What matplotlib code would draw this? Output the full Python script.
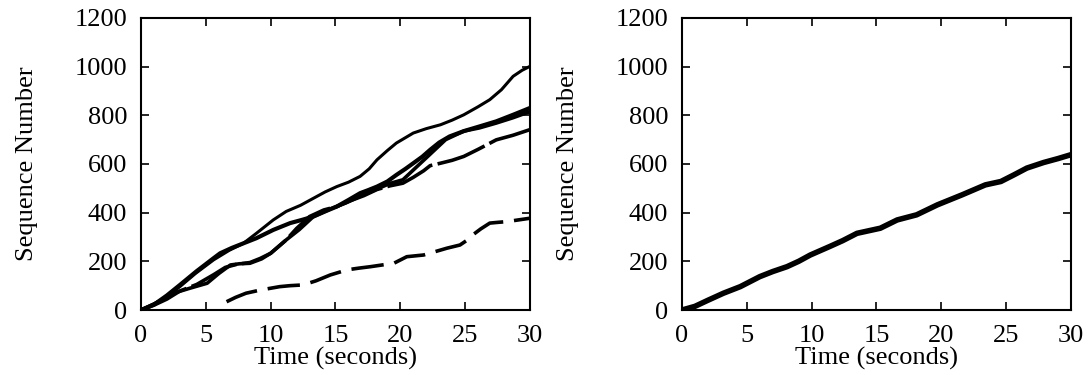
import numpy as np
import matplotlib
matplotlib.use('Agg')
import matplotlib.pyplot as plt

plt.rcParams['font.family'] = ['Liberation Serif', 'DejaVu Serif']

# left panel: several flows (time in s, sequence number)
t_a = [0, 1.0, 2.0, 3.0, 4.2, 5.6, 6.8, 7.9, 8.9, 10.2, 11.2, 12.3, 13.3, 14.2, 15.1,
       16.0, 16.9, 17.6, 18.2, 19.0, 19.7, 21.0, 22.0, 23.1, 24.0, 24.9, 26.0, 26.9,
       27.8, 28.7, 29.4, 30.0]
s_a = [0, 25, 55, 96, 150, 206, 245, 274, 315, 370, 405, 430, 459, 485, 507,
       525, 549, 580, 617, 655, 686, 727, 745, 761, 780, 802, 835, 864,
       905, 960, 985, 1001]

t_b = [0, 1.0, 2.0, 3.0, 4.3, 5.6, 6.1, 7.0, 7.9, 8.9, 10.2, 11.5, 12.4, 13.3, 14.2,
       15.1, 16.0, 16.9, 17.5, 18.2, 19.0, 19.7, 20.4, 21.0, 21.7, 22.3, 23.0, 23.8,
       24.9, 26.1, 27.4, 28.7, 30.0]
s_b = [0, 22, 60, 103, 160, 213, 233, 255, 274, 295, 329, 357, 370, 384, 405,
       425, 452, 480, 492, 507, 528, 555, 580, 603, 630, 658, 688, 713,
       735, 754, 775, 802, 830]

t_c = [0, 1.0, 2.0, 3.0, 4.3, 5.6, 6.5, 7.4, 8.4, 9.2, 10.0, 11.2, 12.0, 13.0, 14.1,
       15.1, 16.2, 17.2, 18.2, 19.2, 20.2, 21.0, 21.8, 22.3, 23.1, 24.0, 24.9, 26.0,
       27.4, 28.7, 30.0]
s_c = [0, 20, 45, 78, 105, 145, 175, 188, 195, 212, 233, 288, 335, 384, 411,
       425, 450, 470, 495, 510, 521, 545, 572, 593, 603, 615, 631, 660,
       699, 718, 741]

t_e = [0, 1.2, 2.5, 3.8, 5.1, 6.0, 6.9, 7.6, 8.4, 9.3, 10.0, 11.2, 12.2, 13.3, 14.6,
       15.8, 17.0, 18.2, 19.2, 20.2, 21.2, 22.3, 23.5, 24.9, 26.1, 27.4, 28.7, 30.0]
s_e = [0, 30, 69, 90, 110, 150, 185, 190, 192, 210, 233, 288, 330, 384, 415,
       440, 470, 497, 520, 535, 585, 640, 700, 735, 748, 768, 790, 815]

t_d = [6.6, 7.3, 8.1, 9.2, 10.7, 11.5, 12.5, 13.5, 14.6, 15.9, 16.8, 17.7, 18.6,
       19.5, 20.5, 21.8, 22.7, 23.6, 24.6, 25.1, 25.6, 26.2, 26.9, 27.5, 28.2, 29.1, 30.0]
s_d = [34, 52, 69, 82, 96, 100, 103, 120, 144, 165, 172, 178, 185,
       192, 219, 226, 240, 254, 267, 285, 309, 333, 357, 360, 363, 370, 377]

# right panel: single flow
t_r = [0, 1.0, 2.0, 3.2, 4.5, 6.0, 7.0, 8.1, 9.0, 9.9, 11.4, 12.4, 13.5, 15.3,
       16.6, 18.1, 19.7, 21.6, 23.4, 24.6, 25.6, 26.6, 27.9, 29.0, 30.0]
s_r = [0, 15, 40, 69, 96, 137, 158, 178, 200, 226, 261, 285, 315, 336,
       370, 391, 432, 473, 514, 528, 555, 583, 606, 622, 638]

xticks = [0, 5, 10, 15, 20, 25, 30]
yticks = [0, 200, 400, 600, 800, 1000, 1200]

fig = plt.figure(figsize=(10.88, 3.75), dpi=100)
ax1 = fig.add_axes([0.1296, 0.1733, 0.3575, 0.779])
ax2 = fig.add_axes([0.6268, 0.1733, 0.3575, 0.779])

ax1.plot(t_a, s_a, color='black', linewidth=2.2)
ax1.plot(t_b, s_b, color='black', linewidth=3.0)
ax1.plot(t_e, s_e, color='black', linewidth=2.6)
ax1.plot(t_c, s_c, color='black', linewidth=2.6, dashes=(14, 1.5))
ax1.plot(t_d, s_d, color='black', linewidth=2.6, dashes=(9, 3))

ax2.plot(t_r, s_r, color='black', linewidth=4.0, solid_capstyle='round')

for ax in (ax1, ax2):
    ax.set_xlim(0, 30)
    ax.set_ylim(0, 1200)
    ax.set_xticks(xticks)
    ax.set_yticks(yticks)
    ax.tick_params(direction='in', top=True, right=True, length=6, width=1.2,
                   labelsize=19)
    ax.tick_params(axis='x', pad=11)
    ax.tick_params(axis='y', pad=10)
    for sp in ax.spines.values():
        sp.set_linewidth(1.5)
    ax.set_xlabel('Time (seconds)', fontsize=19, labelpad=0)
    ax.set_ylabel('Sequence Number', fontsize=19, labelpad=26)

fig.savefig('out.png', dpi=100)
